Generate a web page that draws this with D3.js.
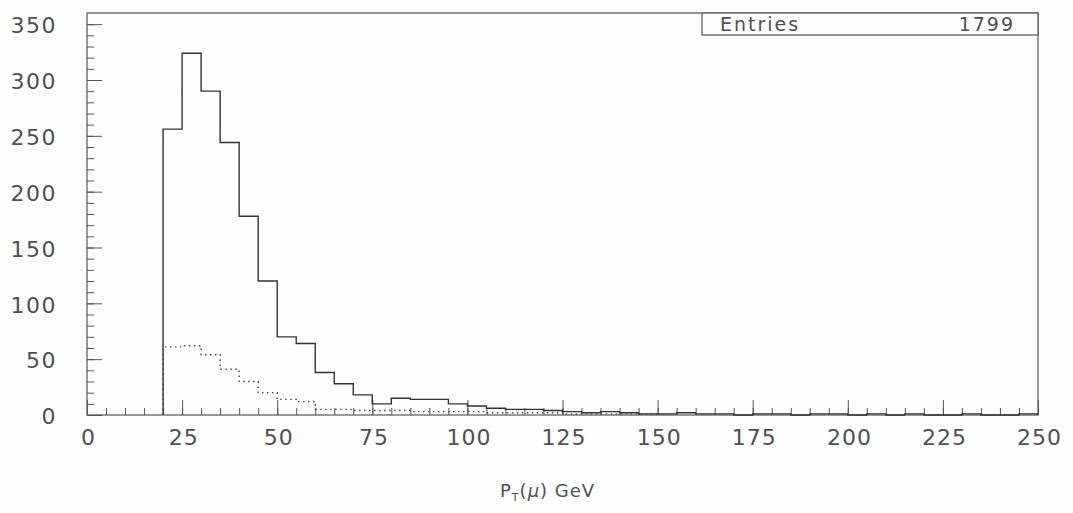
<!DOCTYPE html>
<html>
<head>
<meta charset="utf-8">
<script src="https://cdn.jsdelivr.net/npm/d3@7"></script>
<style>
  html, body { margin: 0; padding: 0; background: #fdfdfd; }
  svg { display: block; }
  text { font-family: "DejaVu Sans", sans-serif; fill: #505050; }
</style>
</head>
<body>
<svg id="grafico"></svg>
<script>
const ancho = 1073;
const alto = 513;

// bordes de cada bin (GeV), ancho 5
const binInicio = 20;
const binPaso = 5;

// histograma sólido (todos los muones)
const conteoTotal = [256, 324, 290, 244, 178, 120, 70, 64, 38, 28, 18, 10,
  15, 14, 14, 10, 8, 6, 5, 5, 4, 3, 2, 3, 2, 1,
  1, 2, 1, 1, 0, 1, 1, 0, 1, 1, 0, 1, 0, 1, 0, 0, 1, 0, 0, 1];

// histograma punteado
const conteoPunteado = [61, 62, 54, 41, 30, 20, 14, 12, 5, 5, 4, 4,
  4, 3, 3, 3, 3, 2, 2, 2, 2, 1, 1, 1, 1, 1];

const ticksX = [0, 25, 50, 75, 100, 125, 150, 175, 200, 225, 250];
const ticksY = [0, 50, 100, 150, 200, 250, 300, 350];
const entradas = 1799;
const tituloX = "GeV";

const margen = { izq: 87, der: 1038, arriba: 13, abajo: 415 };

const svg = d3.select("#grafico").attr("width", ancho).attr("height", alto);

const x = d3.scaleLinear().domain([0, 250]).range([margen.izq, margen.der]);
const y = d3.scaleLinear().domain([0, 360]).range([margen.abajo, margen.arriba]);

// marco
svg.append("rect")
  .attr("x", margen.izq)
  .attr("y", margen.arriba)
  .attr("width", margen.der - margen.izq)
  .attr("height", margen.abajo - margen.arriba)
  .attr("fill", "none")
  .attr("stroke", "#555")
  .attr("stroke-width", 1.2);

// ticks menores
svg.append("g")
  .attr("transform", `translate(0,${margen.abajo})`)
  .call(d3.axisBottom(x).tickValues(d3.range(0, 251, 5)).tickSize(-7).tickFormat(""))
  .call(g => g.select(".domain").remove())
  .call(g => g.selectAll("line").attr("stroke", "#555"));

svg.append("g")
  .attr("transform", `translate(${margen.izq},0)`)
  .call(d3.axisLeft(y).tickValues(d3.range(0, 351, 10)).tickSize(-7).tickFormat(""))
  .call(g => g.select(".domain").remove())
  .call(g => g.selectAll("line").attr("stroke", "#555"));

// ticks mayores con etiquetas
const ejeX = svg.append("g")
  .attr("transform", `translate(0,${margen.abajo})`)
  .call(d3.axisBottom(x).tickValues(ticksX).tickSize(-15).tickPadding(10).tickFormat(d3.format("d")));
ejeX.select(".domain").remove();
ejeX.selectAll("line").attr("stroke", "#555");
ejeX.selectAll("text")
  .attr("font-size", 22)
  .attr("dy", "0.9em")
  .attr("dx", "0.05em")
  .style("letter-spacing", "1px")
  .style("font-family", "DejaVu Sans, sans-serif")
  .attr("fill", "#505050");

const ejeY = svg.append("g")
  .attr("transform", `translate(${margen.izq},0)`)
  .call(d3.axisLeft(y).tickValues(ticksY).tickSize(-15).tickPadding(30).tickFormat(d3.format("d")));
ejeY.select(".domain").remove();
ejeY.selectAll("line").attr("stroke", "#555");
ejeY.selectAll("text")
  .attr("font-size", 22)
  .attr("dy", "0.4em")
  .style("letter-spacing", "1.5px")
  .style("font-family", "DejaVu Sans, sans-serif")
  .attr("fill", "#505050");

// histogramas
function puntosHisto(conteos) {
  const pts = conteos.map((c, i) => [binInicio + i * binPaso, c]);
  pts.unshift([binInicio, 0]);
  pts.push([binInicio + conteos.length * binPaso, conteos[conteos.length - 1]]);
  pts.push([binInicio + conteos.length * binPaso, 0]);
  return pts;
}

const linea = d3.line()
  .x(d => x(d[0]))
  .y(d => y(d[1]))
  .curve(d3.curveStepAfter);

svg.append("path")
  .datum(puntosHisto(conteoTotal))
  .attr("fill", "none")
  .attr("stroke", "#333")
  .attr("stroke-width", 1.4)
  .attr("d", linea);

svg.append("path")
  .datum(puntosHisto(conteoPunteado))
  .attr("fill", "none")
  .attr("stroke", "#444")
  .attr("stroke-width", 1.4)
  .attr("stroke-dasharray", "1.5 3.5")
  .attr("d", linea);

// caja de entradas
svg.append("rect")
  .attr("x", 702)
  .attr("y", margen.arriba)
  .attr("width", margen.der - 702)
  .attr("height", 22)
  .attr("fill", "#fdfdfd")
  .attr("stroke", "#555")
  .attr("stroke-width", 1.2);

svg.append("text")
  .attr("x", 720)
  .attr("y", 31)
  .attr("font-size", 19)
  .style("letter-spacing", "2px")
  .text("Entries");

svg.append("text")
  .attr("x", 1015)
  .attr("y", 31)
  .attr("font-size", 19)
  .style("letter-spacing", "2px")
  .attr("text-anchor", "end")
  .text(entradas);

// título del eje x
const titulo = svg.append("text")
  .attr("x", 500)
  .attr("y", 497)
  .attr("font-size", 18)
  .style("letter-spacing", "1px");
titulo.append("tspan").text("P");
titulo.append("tspan").attr("font-size", 11).attr("dy", 4).text("T");
titulo.append("tspan").attr("dy", -4).text("(");
titulo.append("tspan").style("font-style", "italic").text("μ");
titulo.append("tspan").text(") " + tituloX);
</script>
</body>
</html>
